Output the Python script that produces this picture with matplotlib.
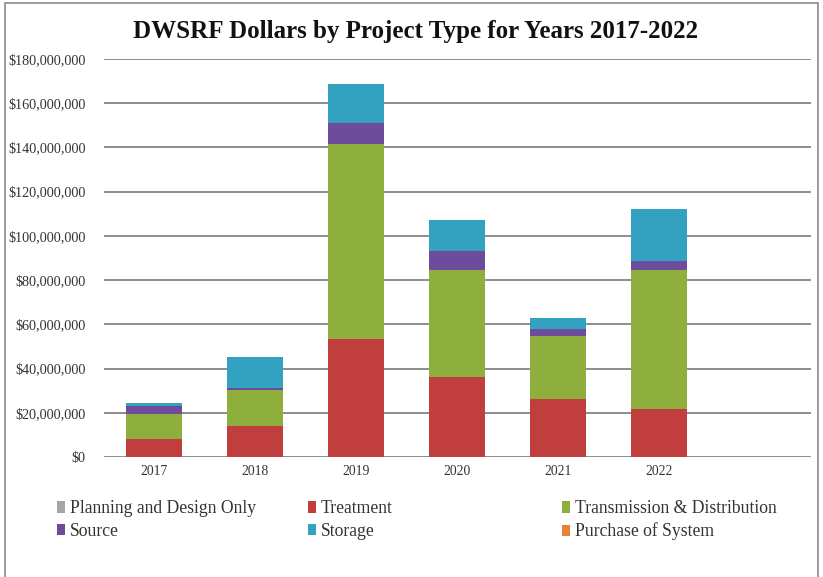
import matplotlib
matplotlib.use("Agg")
import matplotlib.pyplot as plt
from matplotlib.patches import Rectangle, Patch
from matplotlib.ticker import FuncFormatter, MultipleLocator

years = ["2017", "2018", "2019", "2020", "2021", "2022"]
planning = [0, 0, 0, 0, 0, 0]
treatment = [8.0, 13.9, 53.2, 36.2, 26.1, 21.6]
trans_dist = [11.3, 16.3, 88.5, 48.2, 28.6, 62.8]
source = [3.7, 1.2, 9.4, 8.6, 3.1, 4.1]
storage = [1.4, 13.6, 17.5, 14.1, 5.1, 23.5]
purchase = [0, 0, 0, 0, 0, 0]

series = [
    ("Planning and Design Only", planning, "#A5A5A5"),
    ("Treatment", treatment, "#C03F3E"),
    ("Transmission & Distribution", trans_dist, "#8EAF3D"),
    ("Source", source, "#6E4C9C"),
    ("Storage", storage, "#32A2C0"),
    ("Purchase of System", purchase, "#E8813A"),
]

plt.rcParams['font.family'] = ['Liberation Serif', 'DejaVu Serif']

fig = plt.figure(figsize=(8.23, 5.77), dpi=100)
ax = fig.add_axes([0.126, 0.208, 0.859, 0.690])

x = list(range(len(years)))
bottom = [0.0] * len(years)
for name, vals, color in series:
    v = [val * 1e6 for val in vals]
    ax.bar(x, v, width=0.56, bottom=bottom, color=color, zorder=3, linewidth=0)
    bottom = [b + vv for b, vv in zip(bottom, v)]

ax.set_xlim(-0.5, 6.5)
ax.set_ylim(0, 180e6)
ax.yaxis.set_major_locator(MultipleLocator(20e6))
ax.yaxis.set_major_formatter(FuncFormatter(lambda v, p: f"${v:,.0f}"))
ax.set_xticks(x)
ax.set_xticklabels(years)
ax.grid(axis='y', color='#858585', linewidth=1.3, zorder=0)
for s in ax.spines.values():
    s.set_visible(False)
ax.tick_params(axis='both', length=0, colors='#333333')
ax.tick_params(axis='y', pad=13, labelsize=10.2)
ax.tick_params(axis='x', pad=6, labelsize=9.8)

fig.text(0.505, 0.946, "DWSRF Dollars by Project Type for Years 2017-2022",
         ha='center', va='center', fontsize=18, fontweight='bold', color='#111111')

# legend in three independent columns
col_x = [0.069, 0.374, 0.683]
cols = [[series[0], series[3]], [series[1], series[4]], [series[2], series[5]]]
for cx, items in zip(col_x, cols):
    handles = [Patch(facecolor=c, edgecolor='none') for _, _, c in items]
    labels = [n for n, _, _ in items]
    fig.legend(handles, labels, loc='upper left', bbox_to_anchor=(cx, 0.133),
               frameon=False, fontsize=12.7, handlelength=0.45, handleheight=0.6,
               handletextpad=0.3, labelspacing=0.3, borderpad=0, borderaxespad=0,
               labelcolor='#333333')

# outer frame
fig.patches.append(Rectangle((0.006, -0.01), 0.988, 1.005, transform=fig.transFigure,
                             fill=False, edgecolor='#8a8a8a', linewidth=1.2))

fig.savefig("out.png", dpi=100)
